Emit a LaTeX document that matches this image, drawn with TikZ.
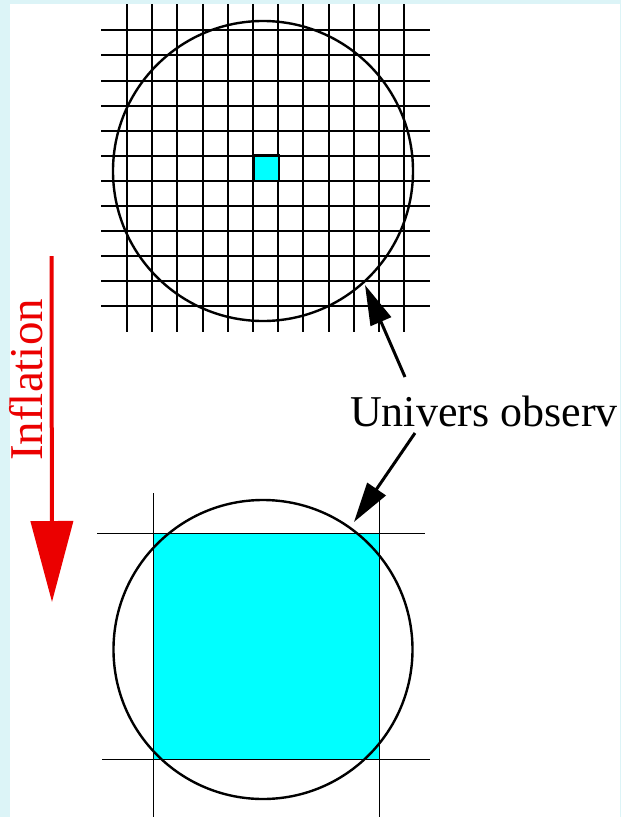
\documentclass[tikz,border=0pt]{standalone}
\usepackage{fontspec}
\setmainfont{Liberation Serif}
\newfontfamily\timesfont{Liberation Serif}
\usetikzlibrary{arrows.meta}
\definecolor{edgecyan}{RGB}{220,244,247}
\definecolor{fillcyan}{RGB}{0,255,255}
\definecolor{infred}{RGB}{235,0,0}
\begin{document}
\begin{tikzpicture}[x=1pt,y=-1pt,
  gridline/.style={line width=2pt,black},
  thinline/.style={line width=1.6pt,black},
  universe/.style={circle,draw=black,line width=2.4pt,inner sep=0pt},
  pointer/.style={line width=3pt,black,-{Triangle[length=40pt,width=22pt]}},
  bigtext/.style={inner sep=0pt,font=\timesfont\fontsize{44}{52}\selectfont},
  redtext/.style={inner sep=0pt,text=infred,font=\timesfont\fontsize{47}{56}\selectfont}]
% page and background
\fill[edgecyan] (0,0) rectangle (621,817);
\fill[white] (10,4) rectangle (620,817);
\useasboundingbox (0,0) rectangle (621,817);
% ---- top: before inflation ----
\foreach \i in {0,...,11} {
  \draw[gridline] ({127+25.2*\i},4) -- ({127+25.2*\i},332);
  \draw[gridline] (101,{30.3+25.1*\i}) -- (430,{30.3+25.1*\i});
}
\draw[fill=fillcyan,line width=2.6pt] (253.3,155.6) rectangle (279,181);
\node[universe,minimum size=300pt] (c1) at (263,171) {};
% ---- bottom: after inflation ----
\fill[fillcyan] (153.3,533.3) rectangle (379.3,759.3);
\draw[thinline] (153.3,493) -- (153.3,817);
\draw[thinline] (379.3,493) -- (379.3,817);
\draw[thinline] (97,533.3) -- (425,533.3);
\draw[thinline] (102,759.3) -- (430,759.3);
\node[universe,minimum size=299pt] (c2) at (263,649.5) {};
% ---- label and pointers ----
\node[bigtext,anchor=base west] (uo) at (350,426.7) {Univers observ};
\coordinate (t1) at (405,377);
\coordinate (h1) at (365,285);
\coordinate (t2) at (415,433);
\coordinate (h2) at (354,522);
\draw[pointer] (t1) -- (h1);
\draw[pointer] (t2) -- (h2);
% ---- inflation arrow ----
\node[redtext,rotate=90,anchor=base west] (infl) at (42.7,461) {Inflation};
\coordinate (a0) at (51.5,256);
\coordinate (a1) at (52,602);
\draw[infred,line width=4pt,-{Triangle[length=81pt,width=42pt]}] (a0) -- (a1);
\end{tikzpicture}
\end{document}
